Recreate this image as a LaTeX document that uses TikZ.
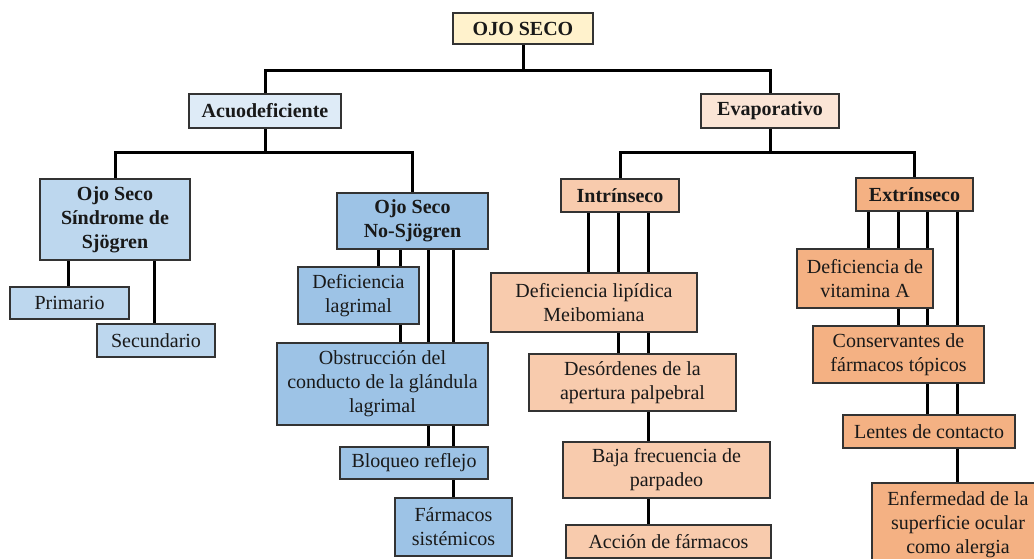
\documentclass[tikz,border=0pt]{standalone}
\usepackage{fontspec}
\setmainfont{Liberation Serif}
\usetikzlibrary{backgrounds}
\definecolor{qYellowLight}{HTML}{FFF2CC}
\definecolor{qBlueLight}{HTML}{DEEBF7}
\definecolor{qBlueMid}{HTML}{BDD7EE}
\definecolor{qBlueDark}{HTML}{9DC3E6}
\definecolor{qPeachLight}{HTML}{FBE5D6}
\definecolor{qPeachMid}{HTML}{F8CBAD}
\definecolor{qPeachDark}{HTML}{F4B183}

\begin{document}
\begin{tikzpicture}[
    x=1pt, y=-1pt,
    % general box style
    box/.style={
        draw=black!80,
        line width=1.3pt,
        align=center,
        inner sep=0pt,
        text=black!90,
        font=\fontsize{20}{24}\selectfont
    },
    % header boxes (bold)
    head/.style={
        box,
        font=\fontsize{20}{24}\selectfont\bfseries
    },
    % connector lines
    link/.style={
        draw=black,
        line width=3pt
    }
]

    % --- page size ---
    \useasboundingbox (0,0) rectangle (1034,559);
    \clip (0,0) rectangle (1034,559);

    % --- 1. root and first level ---
    \node[head, fill=qYellowLight, minimum width=140, minimum height=31] (ojo) at (523,28.5) {OJO SECO};
    \node[head, fill=qBlueLight, minimum width=152, minimum height=34] (acuo) at (265,111) {Acuodeficiente};
    \node[head, fill=qPeachLight, minimum width=138, minimum height=34] (evap) at (770,111) {Evaporativo};

    % --- 2. aqueous deficient branch ---
    \node[head, fill=qBlueMid, minimum width=150, minimum height=81] (sjo) at (115,219.5) {Ojo Seco\\Síndrome de\\Sjögren};
    \node[head, fill=qBlueDark, minimum width=151, minimum height=56] (nsj) at (412.5,221) {Ojo Seco\\No-Sjögren};

    \node[box, fill=qBlueMid, minimum width=119, minimum height=32] (prim) at (69.5,303) {Primario};
    \node[box, fill=qBlueMid, minimum width=118, minimum height=33] (secu) at (156,340.5) {Secundario};

    \node[box, fill=qBlueDark, minimum width=121, minimum height=57] (dlag) at (358.5,295.5) {Deficiencia\\lagrimal};
    \node[box, fill=qBlueDark, minimum width=211, minimum height=82] (obst) at (382.5,384) {Obstrucción del\\conducto de la glándula\\lagrimal};
    \node[box, fill=qBlueDark, minimum width=148, minimum height=32] (bloq) at (414,463) {Bloqueo reflejo};
    \node[box, fill=qBlueDark, minimum width=117, minimum height=58] (fsis) at (453.5,527) {Fármacos\\sistémicos};

    % --- 3. evaporative branch ---
    \node[head, fill=qPeachMid, minimum width=118, minimum height=33] (intr) at (620,195.5) {Intrínseco};
    \node[head, fill=qPeachDark, minimum width=117, minimum height=33] (extr) at (914.5,194.5) {Extrínseco};

    \node[box, fill=qPeachMid, minimum width=206, minimum height=59] (dlip) at (594,302.5) {Deficiencia lipídica\\Meibomiana};
    \node[box, fill=qPeachMid, minimum width=207, minimum height=57] (deso) at (632.5,382.5) {Desórdenes de la\\apertura palpebral};
    \node[box, fill=qPeachMid, minimum width=207, minimum height=56] (baja) at (666.5,470) {Baja frecuencia de\\parpadeo};
    \node[box, fill=qPeachMid, minimum width=205, minimum height=33] (acci) at (668.5,541.5) {Acción de fármacos};

    \node[box, fill=qPeachDark, minimum width=136, minimum height=59] (dvit) at (865,278.5) {Deficiencia de\\vitamina A};
    \node[box, fill=qPeachDark, minimum width=171, minimum height=57] (cons) at (898.5,354.5) {Conservantes de\\fármacos tópicos};
    \node[box, fill=qPeachDark, minimum width=172, minimum height=33] (lent) at (929,431.5) {Lentes de contacto};
    \node[box, fill=qPeachDark, minimum width=172, minimum height=84] (enfe) at (958,525) {Enfermedad de la\\superficie ocular\\como alergia};

    % --- 4. connectors (behind the boxes) ---
    \begin{scope}[on background layer]
        \draw[link] (ojo.south) -- ++(0,26) -| (acuo.north);
        \draw[link] (ojo.south) -- ++(0,26) -| (evap.north);

        \draw[link] (acuo.south) -- ++(0,24) -| (sjo.north);
        \draw[link] (acuo.south) -- ++(0,24) -| (nsj.north);
        \draw[link] (evap.south) -- ++(0,24) -| (intr.north);
        \draw[link] (evap.south) -- ++(0,24) -| (extr.north);

        % Sjögren
        \draw[link] ([xshift=-47]sjo.south) -- ([xshift=-47]sjo.south |- prim.north);
        \draw[link] ([xshift=39]sjo.south) -- ([xshift=39]sjo.south |- secu.north);

        % No-Sjögren
        \draw[link] ([xshift=-34.5]nsj.south) -- ([xshift=-34.5]nsj.south |- dlag.north);
        \draw[link] ([xshift=-12.5]nsj.south) -- ([xshift=-12.5]nsj.south |- obst.north);
        \draw[link] ([xshift=15.5]nsj.south) -- ([xshift=15.5]nsj.south |- bloq.north);
        \draw[link] ([xshift=40.5]nsj.south) -- ([xshift=40.5]nsj.south |- fsis.north);

        % Intrínseco
        \draw[link] ([xshift=-32]intr.south) -- ([xshift=-32]intr.south |- dlip.north);
        \draw[link] ([xshift=-2]intr.south) -- ([xshift=-2]intr.south |- deso.north);
        \draw[link] ([xshift=28]intr.south) -- ([xshift=28]intr.south |- acci.north);

        % Extrínseco
        \draw[link] ([xshift=-46.5]extr.south) -- ([xshift=-46.5]extr.south |- dvit.north);
        \draw[link] ([xshift=-16.5]extr.south) -- ([xshift=-16.5]extr.south |- cons.north);
        \draw[link] ([xshift=12.5]extr.south) -- ([xshift=12.5]extr.south |- lent.north);
        \draw[link] ([xshift=42.5]extr.south) -- ([xshift=42.5]extr.south |- enfe.north);
    \end{scope}

\end{tikzpicture}
\end{document}
